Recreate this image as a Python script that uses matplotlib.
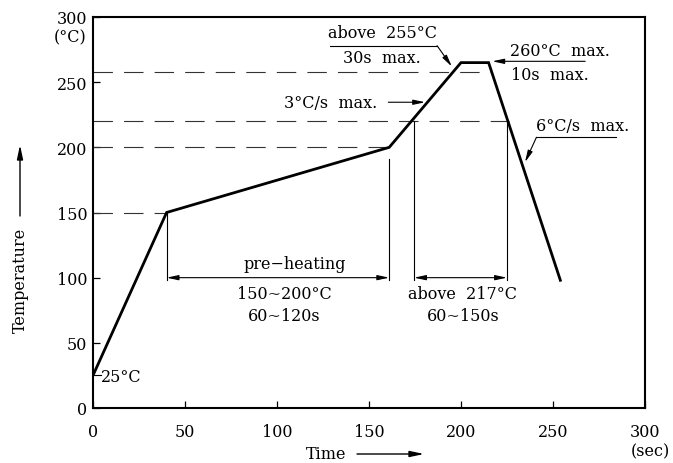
import matplotlib
matplotlib.use("Agg")
import matplotlib.pyplot as plt
from matplotlib.patches import FancyArrowPatch

plt.rcParams['font.family'] = ['DejaVu Serif']
plt.rcParams['lines.scale_dashes'] = False

# ---- data ----
profile_t = [0, 40, 161, 200, 215, 254]
profile_T = [25, 150, 200, 265, 265, 98]

dash_levels = [150, 200, 220, 258]
dash_ends = [40, 161, 226, 217]

vline_x = [40, 161, 174.5, 225]
vline_top = [150, 191, 220, 220]
vline_bottom = 98

span_y = 100
preheat_span = [40, 161]
liquidus_span = [174.5, 225]

x_ticks = [0, 50, 100, 150, 200, 250, 300]
y_ticks = [0, 50, 100, 150, 200, 250, 300]

fig = plt.figure(figsize=(6.73, 4.64), dpi=100)
ax = fig.add_axes([93/673, 1-409/464, (645-93)/673, (409-18)/464])
ax.set_xlim(0, 300)
ax.set_ylim(0, 300)
for s in ax.spines.values():
    s.set_linewidth(1.5)
ax.set_xticks(x_ticks)
ax.set_yticks(y_ticks)
fs = 11.5
ax.tick_params(direction='in', length=5, width=0.9, labelsize=fs)
ax.tick_params(axis='x', pad=11)
ax.tick_params(axis='y', pad=4)

thin = 0.8
dash = (0, (14, 8))

# dashed reference levels
for lvl, end in zip(dash_levels, dash_ends):
    ax.plot([0, end], [lvl, lvl], color='#333333', lw=thin, ls=dash)

# vertical guide lines
for x, top in zip(vline_x, vline_top):
    ax.plot([x, x], [vline_bottom, top], color='black', lw=thin)

# profile
ax.plot(profile_t, profile_T, color='black', lw=2.0, solid_joinstyle='miter')

# double arrows
ap2 = dict(arrowstyle='<|-|>,head_length=0.7,head_width=0.15', lw=thin, color='black',
           shrinkA=0, shrinkB=0)
ax.annotate('', xy=(preheat_span[1], span_y), xytext=(preheat_span[0], span_y), arrowprops=ap2)
ax.annotate('', xy=(liquidus_span[1], span_y), xytext=(liquidus_span[0], span_y), arrowprops=ap2)

ax.text(109.5, 110.5, 'pre\u2212heating', ha='center', va='center', fontsize=fs)
ax.text(104, 87.5, '150~200\u00b0C', ha='center', va='center', fontsize=fs)
ax.text(104, 70.8, '60~120s', ha='center', va='center', fontsize=fs)
ax.text(201, 87.5, 'above  217\u00b0C', ha='center', va='center', fontsize=fs)
ax.text(201, 70.8, '60~150s', ha='center', va='center', fontsize=fs)

ap1 = dict(arrowstyle='-|>,head_length=0.7,head_width=0.15', lw=thin, color='black',
           shrinkA=0, shrinkB=0)

# above 255
ax.text(157.5, 287.8, 'above  255\u00b0C', ha='center', va='center', fontsize=fs)
ax.text(157, 269.3, '30s  max.', ha='center', va='center', fontsize=fs)
ax.plot([129, 187], [278, 278], color='black', lw=thin)
ax.annotate('', xy=(195, 262), xytext=(187, 278), arrowprops=ap1)

# 260 max
ax.text(253.5, 274, '260\u00b0C  max.', ha='center', va='center', fontsize=fs)
ax.text(248.5, 255.5, '10s  max.', ha='center', va='center', fontsize=fs)
ax.annotate('', xy=(217, 266), xytext=(267.5, 266), arrowprops=ap1)

# 3C/s
ax.text(129, 234.6, '3\u00b0C/s  max.', ha='center', va='center', fontsize=fs)
ax.annotate('', xy=(180.5, 234.6), xytext=(160.5, 234.6), arrowprops=ap1)

# 6C/s
ax.text(266, 216.7, '6\u00b0C/s  max.', ha='center', va='center', fontsize=fs)
ax.plot([241, 284], [207.7, 207.7], color='black', lw=thin)
ax.annotate('', xy=(234.8, 188.6), xytext=(241, 207.7), arrowprops=ap1)

# 25C
ax.plot([0, 4.5], [25, 25], color='black', lw=thin)
ax.text(4.5, 24.5, '25\u00b0C', ha='left', va='center', fontsize=fs)

# unit labels
fig.text(70/673, 1-38/464, '(\u00b0C)', ha='center', va='center', fontsize=fs)
fig.text(650/673, 1-452/464, '(sec)', ha='center', va='center', fontsize=fs)

# axis titles with arrows
fig.text(326/673, 1-455/464, 'Time', ha='center', va='center', fontsize=fs)
fig.add_artist(FancyArrowPatch(
    (357/673, 1-455/464), (424/673, 1-455/464), transform=fig.transFigure,
    arrowstyle='-|>,head_length=0.7,head_width=0.15', lw=1.0, color='black',
    shrinkA=0, shrinkB=0, mutation_scale=12))
fig.text(20/673, 1-280/464, 'Temperature', ha='center', va='center', fontsize=fs, rotation=90)
fig.add_artist(FancyArrowPatch(
    (20/673, 1-217/464), (20/673, 1-146/464), transform=fig.transFigure,
    arrowstyle='-|>,head_length=0.7,head_width=0.15', lw=1.0, color='black',
    shrinkA=0, shrinkB=0, mutation_scale=12))

fig.savefig('out.png', dpi=100)
